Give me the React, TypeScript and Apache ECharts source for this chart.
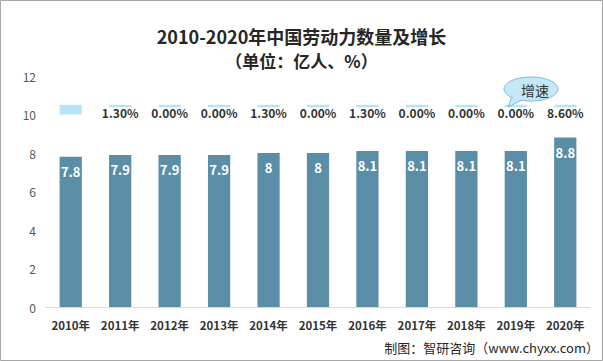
import React, { useEffect, useRef } from "react";
import * as echarts from "echarts";

const YEARS = ["2010年", "2011年", "2012年", "2013年", "2014年", "2015年", "2016年", "2017年", "2018年", "2019年", "2020年"];
const LABOR = [7.8, 7.9, 7.9, 7.9, 8, 8, 8.1, 8.1, 8.1, 8.1, 8.8];
const GROWTH: (number | null)[] = [null, 1.3, 0, 0, 1.3, 0, 1.3, 0, 0, 0, 8.6];
const Y_TICKS = [0, 2, 4, 6, 8, 10, 12];

const ROW_BASE = 10;
const ROW_HEIGHT = 0.5;

export default function App() {
  const ref = useRef<HTMLDivElement>(null);
  useEffect(() => {
    document.body.style.margin = "0";
    if (!ref.current) return;
    const chart = echarts.init(ref.current, undefined, { renderer: "svg" });
    const font = "'Noto Sans CJK SC', 'Noto Sans', sans-serif";
    chart.setOption({
      animation: false,
      backgroundColor: "#ffffff",
      textStyle: { fontFamily: font },
      title: [
        {
          text: "2010-2020年中国劳动力数量及增长",
          left: "center",
          top: 22,
          textStyle: { fontSize: 18, fontWeight: "bold", color: "#262626", fontFamily: font },
        },
        {
          text: "（单位：亿人、%）",
          left: "center",
          top: 47,
          textStyle: { fontSize: 17, fontWeight: "bold", color: "#262626", fontFamily: font },
        },
      ],
      grid: { left: 46, right: 13, top: 76, bottom: 54 },
      xAxis: {
        type: "category",
        data: YEARS,
        axisLine: { lineStyle: { color: "#d9d9d9" } },
        axisTick: { show: false },
        axisLabel: {
          interval: 0,
          color: "#333333",
          fontSize: 11.5,
          fontWeight: "bold",
          margin: 12,
          fontFamily: font,
        },
      },
      yAxis: {
        type: "value",
        min: Y_TICKS[0],
        max: Y_TICKS[Y_TICKS.length - 1],
        interval: Y_TICKS[1] - Y_TICKS[0],
        splitLine: { show: false },
        axisLine: { show: false },
        axisTick: { show: false },
        axisLabel: { color: "#595959", fontSize: 12, margin: 10, fontFamily: font },
      },
      series: [
        {
          name: "劳动力",
          type: "bar",
          data: LABOR,
          barWidth: "45%",
          barGap: "-100%",
          itemStyle: { color: "#5a8ea7" },
          label: {
            show: true,
            position: "insideTop",
            distance: 8,
            color: "#ffffff",
            fontSize: 13,
            fontWeight: "bold",
            fontFamily: font,
          },
        },
        {
          name: "base",
          type: "bar",
          stack: "g",
          data: GROWTH.map(() => ROW_BASE),
          barWidth: "45%",
          barGap: "-100%",
          itemStyle: { color: "transparent" },
          silent: true,
        },
        {
          name: "增速",
          type: "bar",
          stack: "g",
          barWidth: "45%",
          barGap: "-100%",
          data: GROWTH.map((g) => ({
            value: ROW_HEIGHT,
            label: { show: g !== null },
          })),
          itemStyle: { color: "#b6e4f6" },
          label: {
            show: true,
            position: "inside",
            offset: [0, 2.6],
            formatter: (p: any) => {
              const g = GROWTH[p.dataIndex];
              return g === null ? "" : g.toFixed(2) + "%";
            },
            color: "#333333",
            fontSize: 12,
            fontWeight: "bold",
            lineHeight: 10,
            backgroundColor: "#ffffff",
            padding: [0, 2, 0, 2],
            fontFamily: font,
          },
        },
      ],
      graphic: [
        {
          type: "rect",
          shape: { x: 0.5, y: 0.5, width: 602, height: 360 },
          style: { fill: "none", stroke: "#a6a6a6", lineWidth: 1 },
          silent: true,
        },
        {
          type: "polygon",
          shape: { points: [[513, 94], [524, 99], [508, 107]] },
          style: { fill: "#c4e8f7", stroke: "#7cbcd8", lineWidth: 1 },
          z: 10,
        },
        {
          type: "ellipse",
          shape: { cx: 531, cy: 89, rx: 27, ry: 12 },
          style: { fill: "#c4e8f7", stroke: "#7cbcd8", lineWidth: 1 },
          z: 11,
        },
        {
          type: "polygon",
          shape: { points: [[514, 95.5], [523, 98.5], [510, 105]] },
          style: { fill: "#c4e8f7" },
          z: 12,
        },
        {
          type: "text",
          x: 535,
          y: 90,
          style: {
            text: "增速",
            fill: "#333333",
            fontSize: 14,
            fontFamily: font,
            align: "center",
            verticalAlign: "middle",
          },
          z: 13,
        },
        {
          type: "text",
          right: 4,
          top: 341,
          style: {
            text: "制图：智研咨询（www.chyxx.com）",
            fill: "#262626",
            fontSize: 13,
            fontFamily: font,
          },
        },
      ],
    });
    return () => chart.dispose();
  }, []);
  return <div ref={ref} style={{ width: 603, height: 361, position: "absolute", left: 0, top: 0 }} />;
}
